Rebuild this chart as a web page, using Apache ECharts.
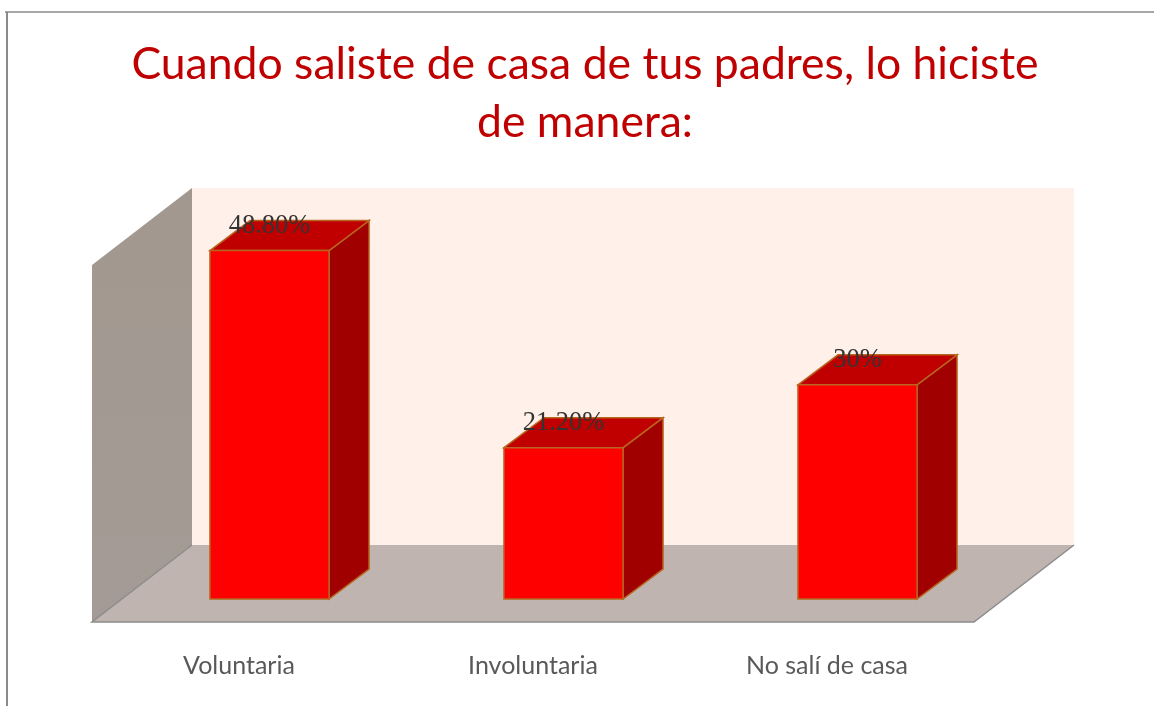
<!DOCTYPE html>
<html>
<head>
<meta charset="utf-8">
<title>Cuando saliste de casa de tus padres</title>
<script src="https://cdn.jsdelivr.net/npm/echarts@6/dist/echarts.min.js"></script>
<style>
  html, body { margin: 0; padding: 0; background: #fff; }
  #chart { width: 1154px; height: 706px; }
</style>
</head>
<body>
<div id="chart"></div>
<script>
const categories = ['Voluntaria', 'Involuntaria', 'No salí de casa'];
const values = [48.8, 21.2, 30];
const valueLabels = ['48.80%', '21.20%', '30%'];
const titleText = 'Cuando saliste de casa de tus padres, lo hiciste\nde manera:';

// offsets of the fake 3d box, in pixels
const BAR_DX = 40, BAR_DY = -30;
const FLOOR_DX = 100, FLOOR_DY = -77;
const FRONT_DX = -30.5, FRONT_DY = 23;

function poly (points, fill, stroke, z2) {
  return {
    type: 'polygon',
    z2: z2 || 0,
    shape: { points: points },
    style: { fill: fill, stroke: stroke || null, lineWidth: stroke ? 1.5 : 0 }
  };
}

function renderBox (params) {
  const c = params.coordSys;
  const x0 = c.x + FRONT_DX, x1 = x0 + c.width;
  const yb = c.y + c.height + FRONT_DY, yt = c.y + FRONT_DY;
  const dx = FLOOR_DX, dy = FLOOR_DY;
  return {
    type: 'group',
    children: [
      poly([[x0 + dx, yt + dy], [x1 + dx, yt + dy], [x1 + dx, yb + dy], [x0 + dx, yb + dy]], '#fff0e9'),
      poly([[x0, yt], [x0 + dx, yt + dy], [x0 + dx, yb + dy], [x0, yb]], {
        type: 'linear', x: 0, y: 0, x2: 0, y2: 1,
        colorStops: [{ offset: 0, color: '#a2988f' }, { offset: 1, color: '#a49b96' }]
      }),
      poly([[x0, yb], [x0 + dx, yb + dy], [x1 + dx, yb + dy], [x1, yb]], '#bfb4af'),
      {
        type: 'polyline',
        shape: { points: [[x0 + dx, yb + dy], [x0, yb], [x1, yb], [x1 + dx, yb + dy]] },
        style: { fill: null, stroke: '#8c8c8c', lineWidth: 1.5 }
      }
    ]
  };
}

function renderBar (params, api) {
  const idx = api.value(0);
  const top = api.coord([idx, api.value(1)]);
  const base = api.coord([idx, 0]);
  const w = api.size([1, 0])[0] * 0.405;
  const l = top[0] - w / 2, r = top[0] + w / 2;
  const edge = '#b8651f';
  return {
    type: 'group',
    children: [
      poly([[r, top[1]], [r + BAR_DX, top[1] + BAR_DY], [r + BAR_DX, base[1] + BAR_DY], [r, base[1]]], '#a00000', edge),
      poly([[l, top[1]], [l + BAR_DX, top[1] + BAR_DY], [r + BAR_DX, top[1] + BAR_DY], [r, top[1]]], '#c00000', edge),
      poly([[l, top[1]], [r, top[1]], [r, base[1]], [l, base[1]]], '#ff0000', edge),
      {
        type: 'text',
        z2: 10,
        style: {
          x: top[0],
          y: top[1] - 25,
          text: valueLabels[idx],
          align: 'center',
          verticalAlign: 'middle',
          fill: '#333',
          font: '26.5px "Liberation Serif"'
        }
      }
    ]
  };
}

const myChart = echarts.init(document.getElementById('chart'));
myChart.setOption({
  animation: false,
  title: {
    text: titleText,
    left: 580,
    top: 31,
    textAlign: 'center',
    textStyle: {
      fontFamily: 'Lato',
      fontWeight: 'normal',
      fontSize: 44.5,
      lineHeight: 58,
      color: '#c00000'
    }
  },
  grid: { left: 122.5, top: 242, width: 882, height: 357 },
  xAxis: {
    type: 'category',
    data: categories,
    axisLine: { show: false },
    axisTick: { show: false },
    axisLabel: {
      margin: 54,
      padding: [0, 61, 0, 0],
      fontFamily: 'Lato',
      fontSize: 25,
      color: '#595959'
    }
  },
  yAxis: { type: 'value', min: 0, max: 50, show: false },
  graphic: [
    { type: 'line', shape: { x1: 5, y1: 12, x2: 1154, y2: 12 }, style: { stroke: '#8a8a8a', lineWidth: 1.5 } },
    { type: 'line', shape: { x1: 7, y1: 12, x2: 7, y2: 706 }, style: { stroke: '#8a8a8a', lineWidth: 2 } }
  ],
  series: [
    { type: 'custom', clip: false, silent: true, z: 1, renderItem: renderBox, data: [[0, 0]] },
    {
      type: 'custom',
      clip: false,
      silent: true,
      z: 2,
      renderItem: renderBar,
      encode: { x: 0, y: 1 },
      data: values.map((v, i) => [i, v])
    }
  ]
});
</script>
</body>
</html>
